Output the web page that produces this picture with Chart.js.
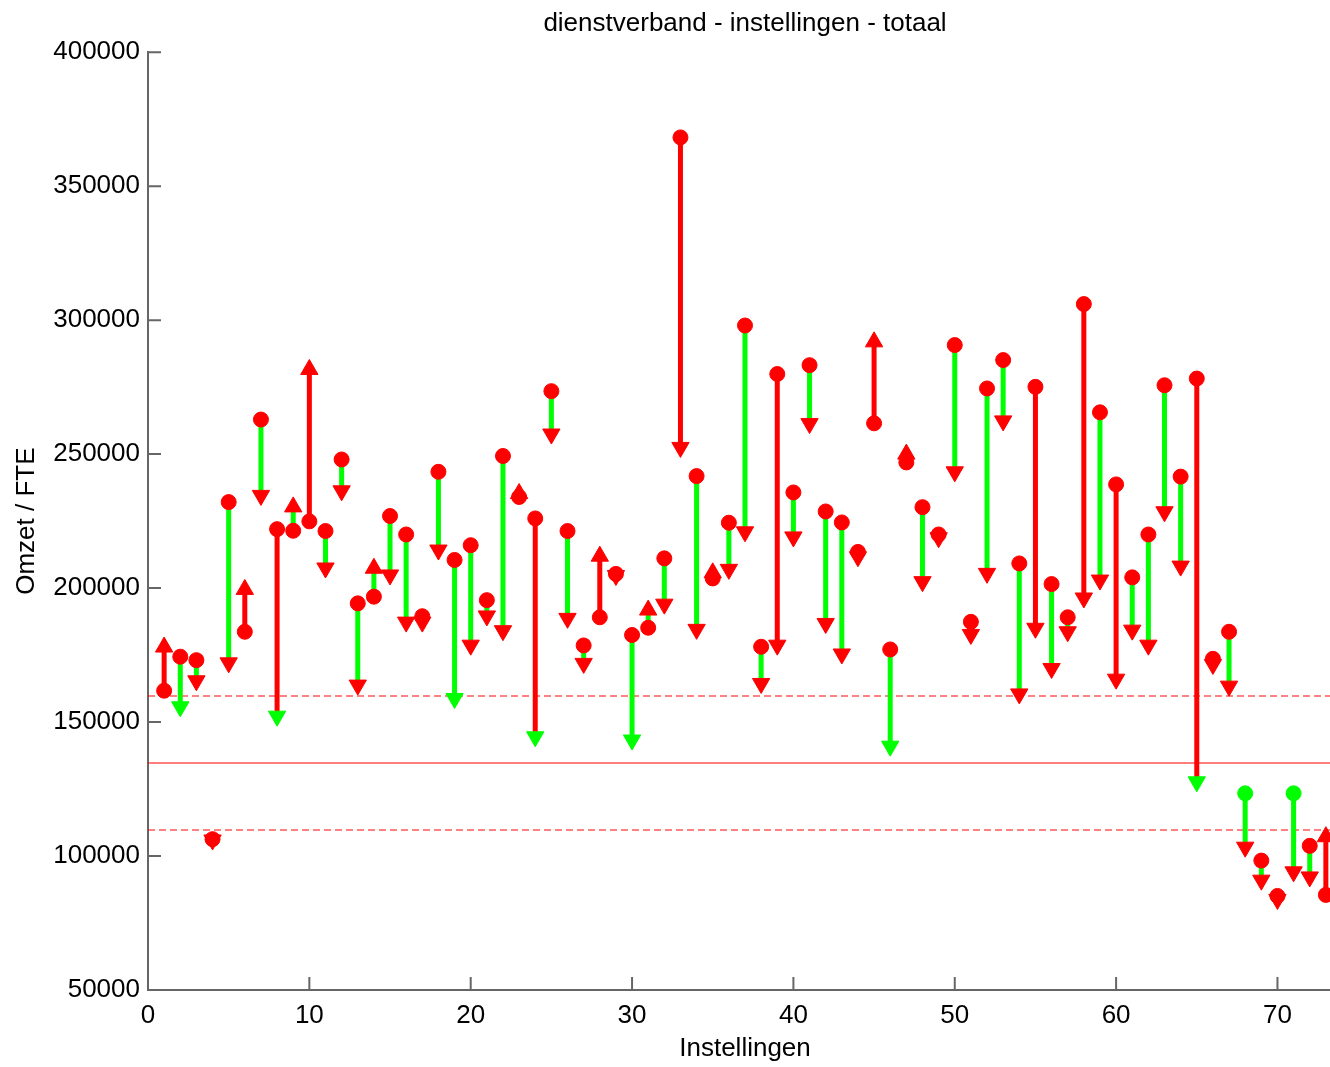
<!DOCTYPE html>
<html>
<head>
<meta charset="utf-8">
<title>dienstverband - instellingen - totaal</title>
<script src="https://cdn.jsdelivr.net/npm/chart.js@4.4.1/dist/chart.umd.min.js"></script>
<style>
    html, body { margin: 0; padding: 0; overflow: hidden; background: #fff; }
    #wrap { width: 1342px; height: 1067px; }
</style>
</head>
<body>
<div id="wrap"><canvas id="omzetChart" width="1342" height="1067"></canvas></div>
<script>
// instellingen (x-as)
const instellingen = [
    1, 2, 3, 4, 5, 6, 7, 8, 9, 10, 11, 12, 13, 14, 15, 16, 17, 18, 19, 20,
    21, 22, 23, 24, 25, 26, 27, 28, 29, 30, 31, 32, 33, 34, 35, 36, 37, 38, 39, 40,
    41, 42, 43, 44, 45, 46, 47, 48, 49, 50, 51, 52, 53, 54, 55, 56, 57, 58, 59, 60,
    61, 62, 63, 64, 65, 66, 67, 68, 69, 70, 71, 72, 73
];

// omzet / FTE bij begin (bolletje)
const beginWaarde = [
    161700, 174400, 173100, 106300, 232100, 183700, 262900, 222000, 221400, 224900,
    221300, 248000, 194300, 196800, 226900, 220000, 189500, 243400, 210500, 216000,
    195500, 249300, 234000, 226000, 273500, 221300, 178600, 189100, 205300, 182500,
    185200, 211100, 368200, 241800, 203600, 224400, 298000, 178100, 279900, 235700,
    283200, 228600, 224500, 213500, 261500, 177100, 246900, 230200, 220000, 290700,
    187400, 274500, 285100, 209200, 275100, 201500, 189100, 306000, 265600, 238700,
    204000, 220000, 275700, 241600, 278200, 173600, 183700, 123400, 98300, 85100,
    123400, 103800, 85500
];

// omzet / FTE bij eind (pijlpunt)
const eindWaarde = [
    178000, 155700, 165400, 106000, 172100, 199500, 234600, 152200, 230300, 281600,
    207500, 236300, 163800, 207400, 204900, 187300, 187300, 214200, 158800, 178700,
    189600, 184100, 235300, 144500, 257500, 188700, 171900, 211900, 204700, 143300,
    191800, 194000, 252500, 184600, 205700, 207000, 221000, 164400, 178700, 219100,
    261400, 186800, 175400, 211700, 291900, 141000, 250000, 202400, 218800, 243400,
    182700, 205500, 262400, 160500, 185000, 170000, 183700, 196300, 203000, 166000,
    184300, 178700, 228500, 208200, 127700, 171500, 163400, 103300, 91000, 83800,
    94100, 92200, 107200
];

// instellingen met een rode verbindingslijn (de rest is groen)
const rodeLijn = [1, 6, 8, 10, 24, 28, 33, 39, 45, 55, 58, 60, 65, 73];

// gemiddelde en band
const gemiddelde = 134700;
const bovenGrens = 159700;
const onderGrens = 109700;

const xTicks = [0, 10, 20, 30, 40, 50, 60, 70];
const yTicks = [50000, 100000, 150000, 200000, 250000, 300000, 350000, 400000];

const ROOD = '#ff0000';
const GROEN = '#00ff00';
const AS_KLEUR = '#666666';
const FONT = { family: "'Liberation Sans', Arial, sans-serif", size: 26, weight: 'normal' };

Chart.defaults.font.family = FONT.family;
Chart.defaults.color = '#000';

const binnenBand = (v) => v >= onderGrens && v <= bovenGrens;

// lijnstukken per kleur, onderbroken met null
const groeneLijnData = [];
const rodeLijnData = [];
instellingen.forEach((nr, i) => {
    const doel = rodeLijn.includes(nr) ? rodeLijnData : groeneLijnData;
    doel.push({ x: nr, y: beginWaarde[i] }, { x: nr, y: eindWaarde[i] }, { x: nr, y: null });
});

const beginPunten = instellingen.map((nr, i) => ({ x: nr, y: beginWaarde[i] }));
const eindPunten = instellingen.map((nr, i) => ({ x: nr, y: eindWaarde[i] }));
const beginKleuren = beginWaarde.map(v => binnenBand(v) ? GROEN : ROOD);
const eindKleuren = eindWaarde.map(v => binnenBand(v) ? GROEN : ROOD);
const pijlRichting = eindWaarde.map((v, i) => v > beginWaarde[i] ? 0 : 180);

const xMax = 74;

// tick streepjes naar binnen, zoals in het origineel
const binnenTicks = {
    id: 'binnenTicks',
    beforeDatasetsDraw(chart) {
        const { ctx, chartArea, scales: { x, y } } = chart;
        ctx.save();
        ctx.strokeStyle = AS_KLEUR;
        ctx.lineWidth = 2;
        ctx.beginPath();
        yTicks.forEach(v => {
            const py = y.getPixelForValue(v);
            ctx.moveTo(chartArea.left, py);
            ctx.lineTo(chartArea.left + 13, py);
        });
        xTicks.forEach(v => {
            const px = x.getPixelForValue(v);
            ctx.moveTo(px, chartArea.bottom);
            ctx.lineTo(px, chartArea.bottom - 13);
        });
        ctx.stroke();
        ctx.restore();
    }
};

const ctx = document.getElementById('omzetChart').getContext('2d');

const omzetChart = new Chart(ctx, {
    type: 'scatter',
    data: {
        datasets: [
            {
                // pijlpunten
                data: eindPunten,
                pointStyle: 'triangle',
                pointRadius: 10,
                pointRotation: pijlRichting,
                pointBackgroundColor: eindKleuren,
                pointBorderColor: eindKleuren,
                pointBorderWidth: 1,
                showLine: false,
                order: 1
            },
            {
                // bolletjes
                data: beginPunten,
                pointStyle: 'circle',
                pointRadius: 7.5,
                pointBackgroundColor: beginKleuren,
                pointBorderColor: beginKleuren,
                pointBorderWidth: 1,
                showLine: false,
                order: 2
            },
            {
                data: rodeLijnData,
                showLine: true,
                spanGaps: false,
                borderColor: ROOD,
                borderWidth: 5,
                pointRadius: 0,
                order: 3
            },
            {
                data: groeneLijnData,
                showLine: true,
                spanGaps: false,
                borderColor: GROEN,
                borderWidth: 5,
                pointRadius: 0,
                order: 4
            },
            {
                data: [{ x: 0, y: gemiddelde }, { x: xMax, y: gemiddelde }],
                showLine: true,
                borderColor: 'rgba(255, 0, 0, 0.5)',
                borderWidth: 2,
                pointRadius: 0,
                order: 5
            },
            {
                data: [{ x: 0, y: bovenGrens }, { x: xMax, y: bovenGrens }],
                showLine: true,
                borderColor: 'rgba(255, 0, 0, 0.65)',
                borderWidth: 1.5,
                borderDash: [7, 4],
                pointRadius: 0,
                order: 5
            },
            {
                data: [{ x: 0, y: onderGrens }, { x: xMax, y: onderGrens }],
                showLine: true,
                borderColor: 'rgba(255, 0, 0, 0.65)',
                borderWidth: 1.5,
                borderDash: [7, 4],
                pointRadius: 0,
                order: 5
            }
        ]
    },
    options: {
        responsive: false,
        animation: false,
        events: [],
        layout: { autoPadding: false, padding: { left: 5, right: 0, top: 0, bottom: 0 } },
        plugins: {
            legend: { display: false },
            tooltip: { enabled: false },
            title: {
                display: true,
                text: 'dienstverband - instellingen - totaal',
                fullSize: false,
                font: FONT,
                color: '#000',
                padding: { top: 8, bottom: 13 }
            }
        },
        scales: {
            x: {
                type: 'linear',
                min: 0,
                max: xMax,
                afterBuildTicks: (s) => { s.ticks = xTicks.map(v => ({ value: v })); },
                afterFit: (s) => { s.height = 77; },
                grid: { display: false, drawTicks: false },
                border: { display: true, color: AS_KLEUR, width: 2 },
                ticks: {
                    font: FONT,
                    color: '#000',
                    padding: 10,
                    maxRotation: 0,
                    autoSkip: false,
                    callback: (v) => String(v)
                },
                title: {
                    display: true,
                    text: 'Instellingen',
                    font: FONT,
                    color: '#000',
                    padding: { top: 0, bottom: 3 }
                }
            },
            y: {
                type: 'linear',
                min: 50000,
                max: 400000,
                afterBuildTicks: (s) => { s.ticks = yTicks.map(v => ({ value: v })); },
                afterFit: (s) => { s.width = 143; },
                grid: { display: false, drawTicks: false },
                border: { display: true, color: AS_KLEUR, width: 2 },
                ticks: {
                    font: FONT,
                    color: '#000',
                    padding: 8,
                    autoSkip: false,
                    callback: (v) => String(v)
                },
                title: {
                    display: true,
                    text: 'Omzet / FTE',
                    font: FONT,
                    color: '#000',
                    padding: { top: 6, bottom: 0 }
                }
            }
        }
    },
    plugins: [binnenTicks]
});
</script>
</body>
</html>
